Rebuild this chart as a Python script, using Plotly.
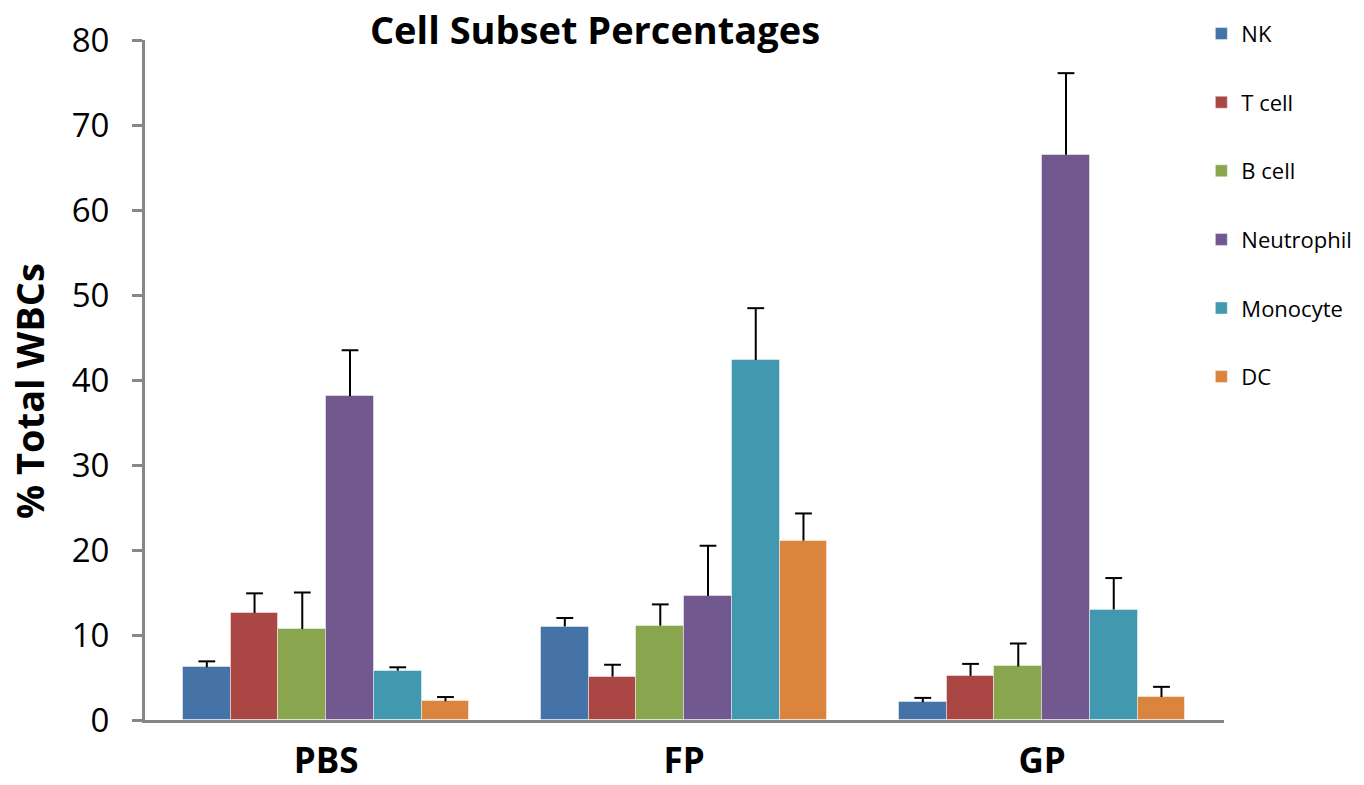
import plotly.graph_objects as go

groups = ["PBS", "FP", "GP"]
series = ["NK", "T cell", "B cell", "Neutrophil", "Monocyte", "DC"]
colors = ["#4572A7", "#AA4643", "#89A54E", "#71588F", "#4198AF", "#DB843D"]

nk = [6.2, 11.0, 2.1]
t_cell = [12.6, 5.1, 5.2]
b_cell = [10.7, 11.1, 6.3]
neutrophil = [38.1, 14.6, 66.5]
monocyte = [5.8, 42.35, 13.0]
dc = [2.2, 21.1, 2.7]

nk_err = [0.7, 1.0, 0.5]
t_cell_err = [2.3, 1.4, 1.4]
b_cell_err = [4.3, 2.5, 2.7]
neutrophil_err = [5.4, 5.9, 9.6]
monocyte_err = [0.4, 6.1, 3.7]
dc_err = [0.5, 3.2, 1.2]

values = [nk, t_cell, b_cell, neutrophil, monocyte, dc]
errors = [nk_err, t_cell_err, b_cell_err, neutrophil_err, monocyte_err, dc_err]

FONT = "Open Sans"
n = len(series)
group_w = 0.8
bw = group_w / n

# page has an 8px body margin; size the figure to fit inside the window
W, H = 1356, 777
L, R, T, B = 137, 140, 32, 65
PW, PH = W - L - R, H - T - B

fig = go.Figure()
for j, (name, vals, col) in enumerate(zip(series, values, colors)):
    xs = [i + (j - (n - 1) / 2) * bw for i in range(len(groups))]
    fig.add_trace(go.Bar(
        x=xs, y=vals, width=bw, name=name, legendgroup=name,
        marker=dict(color=col, line=dict(color="rgba(255,255,255,0.45)", width=1)),
    ))
for j, (name, vals, errs) in enumerate(zip(series, values, errors)):
    xs = [i + (j - (n - 1) / 2) * bw for i in range(len(groups))]
    tops = [v + e for v, e in zip(vals, errs)]
    fig.add_trace(go.Scatter(
        x=xs, y=tops, mode="markers", showlegend=False, hoverinfo="skip",
        marker=dict(symbol="line-ew", size=12, line=dict(color="black", width=2), color="black"),
        error_y=dict(type="data", symmetric=False, array=[0] * len(errs), arrayminus=errs,
                     width=0, thickness=2, color="black"),
    ))

fig.update_layout(
    width=W, height=H,
    margin=dict(l=L, r=R, t=T, b=B, autoexpand=False),
    plot_bgcolor="white", paper_bgcolor="white",
    font=dict(family=FONT, color="black"),
    title=dict(text="<b>Cell Subset Percentages</b>", x=(595 - 8) / W, xanchor="center",
               y=1 - 23 / H, yanchor="middle", font=dict(size=38, family=FONT)),
    showlegend=True,
    legend=dict(x=0.979, xanchor="left", y=1.040, yanchor="top",
                font=dict(size=22, family=FONT), tracegroupgap=37,
                bgcolor="rgba(0,0,0,0)", traceorder="grouped"),
    bargap=0,
    annotations=[dict(
        text="<b>% Total WBCs</b>", textangle=-90, showarrow=False,
        xref="paper", yref="paper", x=(21 - L) / PW, y=(H - B - (391 - 8)) / PH,
        xanchor="center", yanchor="middle", font=dict(size=38, family=FONT),
    )],
)
fig.update_xaxes(
    range=[-0.506, 2.508], tickmode="array", tickvals=list(range(len(groups))),
    ticktext=[f"<b>{g}</b>" for g in groups], tickfont=dict(size=35, family=FONT),
    showline=True, linecolor="#868686", linewidth=3, ticks="", showgrid=False,
    zeroline=False, ticklabelstandoff=8, automargin=False,
)
fig.update_yaxes(
    range=[0, 80], dtick=10, tick0=0, tickfont=dict(size=33, family=FONT),
    showline=True, linecolor="#868686", linewidth=3, ticks="outside", ticklen=10,
    tickwidth=3, tickcolor="#868686", showgrid=False, zeroline=False,
    ticklabelstandoff=16, automargin=False,
)

fig.write_html("out.html")
